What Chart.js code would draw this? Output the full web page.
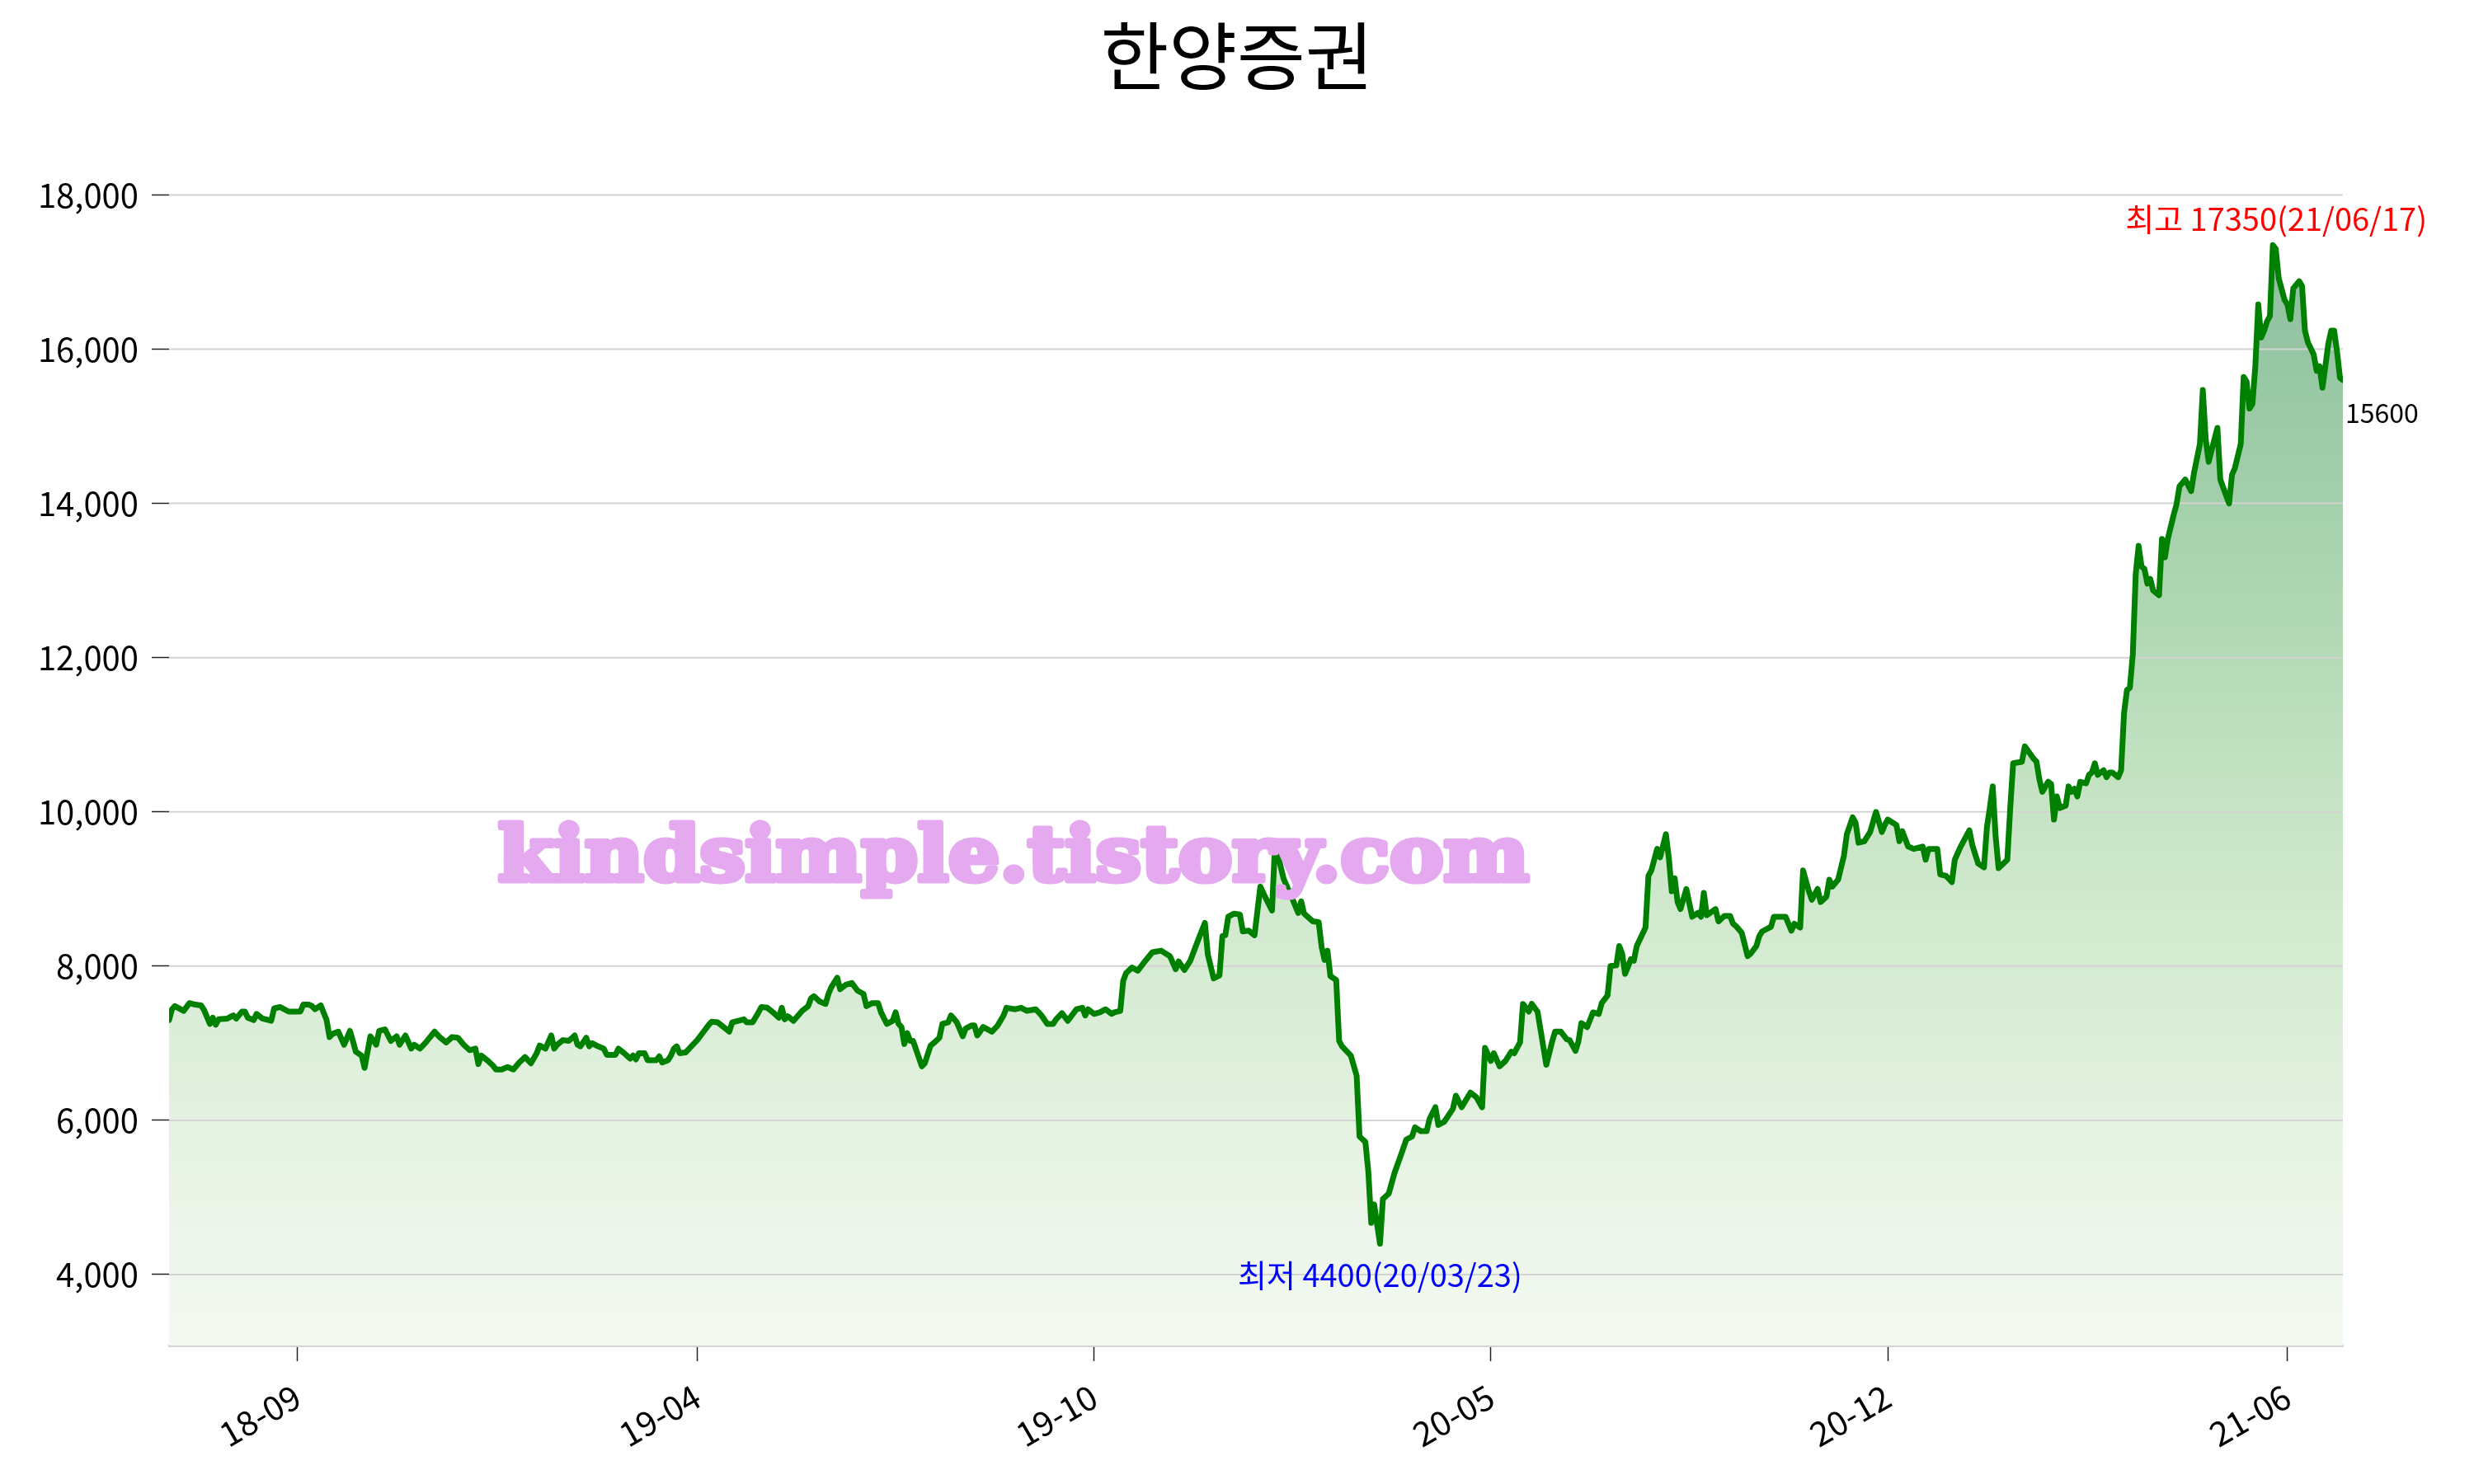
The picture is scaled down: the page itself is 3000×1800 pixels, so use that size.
<!DOCTYPE html>
<html>
<head>
<meta charset="utf-8">
<script src="https://cdn.jsdelivr.net/npm/chart.js@4/dist/chart.umd.min.js"></script>
<style>
  html, body { margin: 0; padding: 0; background: #fff; }
  #wrap { width: 3000px; height: 1800px; }
</style>
</head>
<body>
<div id="wrap"><canvas id="myChart" width="3000" height="1800"></canvas></div>
<script>
var chartTitle = '한양증권';

// trading-day index and closing price
var days = [
  0, 1, 2, 5, 7, 9, 11, 12, 14, 15, 16, 17, 20, 22, 23, 25, 26, 27, 29, 30,
  32, 35, 36, 38, 41, 45, 46, 48, 49, 50, 52, 54, 55, 56, 58, 60, 62, 63, 64, 66,
  67, 69, 71, 72, 74, 76, 78, 79, 81, 83, 84, 86, 88, 91, 93, 95, 97, 99, 101, 103,
  105, 106, 107, 109, 111, 112, 114, 116, 118, 120, 122, 124, 126, 127, 129, 131, 132, 133, 135, 137,
  139, 140, 141, 143, 144, 145, 147, 149, 150, 153, 154, 156, 158, 159, 160, 161, 163, 164, 167, 168,
  169, 171, 172, 173, 174, 175, 177, 179, 181, 183, 185,
  186, 188, 192, 193, 197, 198, 200, 202, 203, 205, 207, 209, 210, 211, 212, 214, 217, 219, 220, 221,
  223, 225, 226, 227, 229, 230, 232, 234, 236, 238, 239, 241, 243, 244, 246, 248, 249, 250, 251, 252,
  253, 254, 255, 258, 259, 261, 262, 264, 265, 267, 268, 270, 272, 273, 275, 276, 277, 279, 282, 284,
  286, 287, 290, 292, 294, 297, 299, 301, 303, 304, 306, 308, 311, 313, 314, 315, 317, 319, 321, 323,
  324, 326, 327,
  328, 330, 332, 334, 337, 340, 343, 345, 346, 348, 350, 353, 355, 356, 358, 360, 361, 362, 363, 365,
  367, 368, 370, 372, 374, 376, 378, 379, 380, 382, 385, 387, 388, 389, 392, 394, 395, 396, 397, 398,
  400, 401, 402, 405, 407, 408, 410, 411, 412, 413, 415, 416, 418, 420, 422, 424, 426, 427, 429, 431,
  432, 434, 435, 437, 440, 441, 443, 446, 448, 450, 451, 453, 454, 456, 458, 460, 461, 463, 464, 466,
  467, 469, 472, 474, 475, 477, 479,
  480, 482, 483, 484, 486, 488, 490, 491, 493, 494, 496, 497, 498, 499, 501, 502, 503, 506, 507, 508,
  510, 511, 513, 514, 515, 516, 517, 518, 520, 522, 524, 525, 526, 527, 530, 531, 533, 535, 536, 537,
  539, 540, 541, 542, 544, 545, 546, 549, 550, 554, 556, 557, 559, 560, 562, 563, 565, 566, 568, 569,
  570, 572, 574, 575, 577, 578, 579, 581, 583, 585, 587, 588, 589, 592, 593, 594, 596, 598, 601, 602,
  603, 606, 607, 609, 611, 612, 614, 616, 617, 618, 620, 622, 623, 624, 625, 626, 627, 630, 631, 632,
  635, 636, 639, 640, 641, 642, 644, 645, 646, 647, 648, 650, 651, 652, 653, 654, 655, 657, 658, 659,
  660, 661, 663, 664, 665, 666, 668, 669, 670, 671, 672, 673, 674, 675, 676, 677, 678, 679, 680, 681,
  682, 683, 684, 685, 687, 688, 689, 691, 693, 694, 696, 697, 698, 699, 702, 703, 705, 706, 707, 708,
  710, 711, 712, 713, 714, 715, 716, 717, 718, 719, 720, 721, 722, 723, 725, 726, 727, 728, 730, 731,
  732, 733, 735, 736, 737, 738, 739, 740, 741, 742, 743, 744, 745
];
var prices = [
  7300, 7440, 7480, 7420, 7520, 7500, 7490, 7430, 7250, 7330, 7240, 7310, 7320, 7360, 7320, 7410, 7410, 7330, 7300, 7380,
  7320, 7290, 7450, 7470, 7410, 7410, 7500, 7500, 7480, 7440, 7490, 7300, 7080, 7120, 7150, 6980, 7160, 7030, 6890, 6840,
  6680, 7090, 6980, 7160, 7180, 7030, 7090, 6980, 7100, 6930, 6980, 6930, 7010, 7150, 7070, 7010, 7080, 7070, 6980, 6910,
  6930, 6730, 6840, 6780, 6710, 6660, 6660, 6690, 6660, 6750, 6820, 6740, 6870, 6970, 6930, 7100, 6930, 6980, 7040, 7030,
  7100, 6980, 6960, 7070, 6960, 7000, 6960, 6930, 6850, 6850, 6930, 6870, 6800, 6840, 6790, 6870, 6870, 6780, 6780, 6830,
  6750, 6780, 6840, 6930, 6960, 6870, 6880, 6960, 7040, 7140, 7240,
  7280, 7270, 7150, 7270, 7310, 7270, 7270, 7400, 7470, 7460, 7400, 7330, 7460, 7310, 7350, 7290, 7420, 7480, 7580, 7610,
  7540, 7510, 7640, 7730, 7850, 7700, 7760, 7780, 7680, 7640, 7480, 7520, 7520, 7400, 7250, 7290, 7400, 7250, 7210, 6990,
  7130, 7030, 7030, 6700, 6740, 6970, 7000, 7070, 7250, 7270, 7360, 7270, 7090, 7190, 7230, 7230, 7100, 7210, 7150, 7230,
  7360, 7460, 7440, 7460, 7420, 7440, 7360, 7250, 7250, 7310, 7390, 7290, 7440, 7460, 7360, 7440, 7380, 7400, 7440, 7380,
  7400, 7420, 7810,
  7910, 7980, 7940, 8040, 8180, 8200, 8130, 7960, 8060, 7950, 8070, 8370, 8560, 8150, 7840, 7880, 8390, 8400, 8640, 8680,
  8670, 8450, 8460, 8400, 9030, 8870, 8720, 9560, 9440, 9130, 8870, 8690, 8840, 8680, 8580, 8570, 8250, 8080, 8200, 7870,
  7820, 7030, 6960, 6840, 6580, 5790, 5720, 5340, 4670, 4910, 4400, 4980, 5050, 5320, 5530, 5750, 5790, 5910, 5860, 5860,
  6020, 6170, 5940, 5980, 6150, 6320, 6170, 6360, 6300, 6170, 6940, 6770, 6870, 6700, 6770, 6890, 6870, 7010, 7510, 7410,
  7510, 7410, 6720, 7020, 7150, 7150, 7050,
  7040, 6900, 7020, 7260, 7210, 7400, 7380, 7520, 7620, 8000, 8010, 8260, 8160, 7900, 8090, 8070, 8260, 8500, 9170, 9240,
  9520, 9410, 9710, 9400, 8970, 9140, 8830, 8740, 9000, 8640, 8690, 8640, 8950, 8660, 8740, 8580, 8650, 8650, 8550, 8520,
  8430, 8280, 8130, 8160, 8260, 8390, 8450, 8510, 8640, 8640, 8460, 8550, 8500, 9240, 8970, 8860, 9000, 8830, 8900, 9120,
  9030, 9120, 9430, 9710, 9930, 9860, 9600, 9620, 9740, 10000, 9740, 9830, 9900, 9830, 9620, 9750, 9550, 9520, 9550, 9380,
  9520, 9520, 9190, 9170, 9090, 9380, 9550, 9690, 9760, 9570, 9330, 9280, 9800, 10050, 10330, 9680, 9270, 9380, 10050, 10630,
  10650, 10850, 10690, 10650, 10420, 10260, 10390, 10360, 9900, 10200, 10050, 10080, 10330, 10260, 10300, 10200, 10390, 10370, 10480, 10510,
  10630, 10480, 10540, 10450, 10510, 10510, 10450, 10540, 11280, 11580, 11610, 12040, 13080, 13450, 13180, 13150, 12960, 13020, 12870, 12840,
  12810, 13540, 13300, 13540, 13850, 13990, 14220, 14310, 14160, 14400, 14770, 15470, 14830, 14540, 14980, 14310, 14100, 14000, 14370, 14460,
  14770, 15640, 15580, 15230, 15290, 15780, 16580, 16150, 16240, 16360, 16430, 17350, 17300, 16920, 16640, 16580, 16390, 16790, 16880, 16820,
  16240, 16090, 15930, 15720, 15780, 15500, 15780, 16070, 16240, 16240, 15970, 15630, 15600
];

var xTickDays = [44, 181, 317, 453, 589, 726];
var xTickLabels = ['18-09', '19-04', '19-10', '20-05', '20-12', '21-06'];
var yTicks = [4000, 6000, 8000, 10000, 12000, 14000, 16000, 18000];
var highDate = '21/06/17';
var lowDate = '20/03/23';
var watermark = 'kindsimple.tistory.com';

var FONT = "'Noto Sans CJK KR', 'Noto Sans', sans-serif";

var points = [];
for (var i = 0; i < days.length; i++) {
  points.push({x: days[i], y: prices[i]});
}

function fillGradient(context) {
  var chart = context.chart;
  if (!chart.chartArea) return 'rgba(0,128,0,0.2)';
  var y = chart.scales.y;
  var g = chart.ctx.createLinearGradient(0, y.getPixelForValue(3080), 0, y.getPixelForValue(17350));
  g.addColorStop(0.00, 'rgb(244,249,242)');
  g.addColorStop(0.07, 'rgb(239,247,237)');
  g.addColorStop(0.20, 'rgb(228,242,225)');
  g.addColorStop(0.35, 'rgb(213,235,210)');
  g.addColorStop(0.49, 'rgb(199,228,197)');
  g.addColorStop(0.63, 'rgb(180,218,182)');
  g.addColorStop(0.77, 'rgb(163,208,171)');
  g.addColorStop(1.00, 'rgb(140,190,158)');
  return g;
}

var decor = {
  id: 'decor',
  beforeDatasetDraw: function(chart, args) {
    if (args.index !== 1) return;
    var ctx = chart.ctx;
    var area = chart.chartArea;
    var ys = chart.scales.y;
    ctx.save();
    ctx.strokeStyle = '#d3d3d3';
    ctx.lineWidth = 2;
    for (var k = 0; k < yTicks.length; k++) {
      var py = ys.getPixelForValue(yTicks[k]);
      ctx.beginPath();
      ctx.moveTo(area.left, py);
      ctx.lineTo(area.right, py);
      ctx.stroke();
    }
    ctx.restore();
  },
  afterDraw: function(chart) {
    var ctx = chart.ctx;
    var area = chart.chartArea;
    var xs = chart.scales.x, ys = chart.scales.y;
    var hi = 0, lo = 0;
    for (var k = 1; k < prices.length; k++) {
      if (prices[k] > prices[hi]) hi = k;
      if (prices[k] < prices[lo]) lo = k;
    }
    var last = prices.length - 1;
    ctx.save();
    ctx.textBaseline = 'middle';

    // title, centred on the whole canvas
    ctx.font = '90px ' + FONT;
    ctx.textAlign = 'center';
    ctx.fillStyle = '#000000';
    ctx.fillText(chartTitle, chart.width / 2, 68);

    ctx.font = '38px ' + FONT;
    ctx.fillStyle = '#ff0000';
    ctx.fillText('최고 ' + prices[hi] + '(' + highDate + ')',
      xs.getPixelForValue(days[hi]) + 4, ys.getPixelForValue(prices[hi]) - 32);
    ctx.fillStyle = '#0000ff';
    ctx.fillText('최저 ' + prices[lo] + '(' + lowDate + ')',
      xs.getPixelForValue(days[lo]), ys.getPixelForValue(prices[lo]) + 38);

    ctx.font = '32px ' + FONT;
    ctx.textAlign = 'left';
    ctx.fillStyle = '#000000';
    ctx.fillText(String(prices[last]), area.right + 3, ys.getPixelForValue(prices[last]) + 40);

    // watermark
    ctx.font = "bold 92px 'DejaVu Serif'";
    var w = ctx.measureText(watermark).width;
    var sx = 1250 / w;
    ctx.translate(604, 1068);
    ctx.scale(sx, 1);
    ctx.textBaseline = 'alphabetic';
    ctx.textAlign = 'left';
    ctx.fillStyle = 'rgb(228,169,239)';
    ctx.strokeStyle = 'rgb(228,169,239)';
    ctx.lineWidth = 7;
    ctx.lineJoin = 'round';
    ctx.strokeText(watermark, 0, 0);
    ctx.fillText(watermark, 0, 0);
    ctx.restore();
  }
};

var config = {
  type: 'line',
  data: {
    datasets: [{
      data: points,
      borderWidth: 0,
      pointRadius: 0,
      fill: 'start',
      backgroundColor: fillGradient,
      order: 2
    }, {
      data: points,
      borderColor: '#008000',
      borderWidth: 7,
      borderJoinStyle: 'round',
      borderCapStyle: 'round',
      pointRadius: 0,
      fill: false,
      order: 1
    }]
  },
  options: {
    responsive: false,
    animation: false,
    devicePixelRatio: 1,
    layout: { padding: { left: 0, right: 159, top: 200, bottom: 0 } },
    plugins: {
      legend: { display: false },
      tooltip: { enabled: false },
      title: { display: false }
    },
    scales: {
      x: {
        type: 'linear',
        min: 0,
        max: 745,
        afterBuildTicks: function(scale) {
          scale.ticks = xTickDays.map(function(v) { return {value: v}; });
        },
        afterFit: function(scale) { scale.height = 168; },
        ticks: {
          autoSkip: false,
          minRotation: 30,
          maxRotation: 30,
          padding: 18,
          color: '#000',
          font: { family: FONT, size: 41 },
          callback: function(v) {
            var j = xTickDays.indexOf(v);
            return j >= 0 ? xTickLabels[j] : '';
          }
        },
        grid: {
          drawOnChartArea: false,
          drawTicks: true,
          tickLength: 19,
          tickColor: '#222',
          tickWidth: 1.5
        },
        border: { display: true, color: '#d3d3d3', width: 3 }
      },
      y: {
        type: 'linear',
        min: 3080,
        max: 18390,
        afterBuildTicks: function(scale) {
          scale.ticks = yTicks.map(function(v) { return {value: v}; });
        },
        afterFit: function(scale) { scale.width = 205; },
        ticks: {
          padding: 16,
          color: '#000',
          font: { family: FONT, size: 40 },
          callback: function(v) { return v.toLocaleString('en-US'); }
        },
        grid: {
          drawOnChartArea: false,
          drawTicks: true,
          tickLength: 21,
          tickColor: '#222',
          tickWidth: 1.5
        },
        border: { display: false }
      }
    }
  },
  plugins: [decor]
};

var myChart = new Chart(document.getElementById('myChart'), config);
</script>
</body>
</html>
